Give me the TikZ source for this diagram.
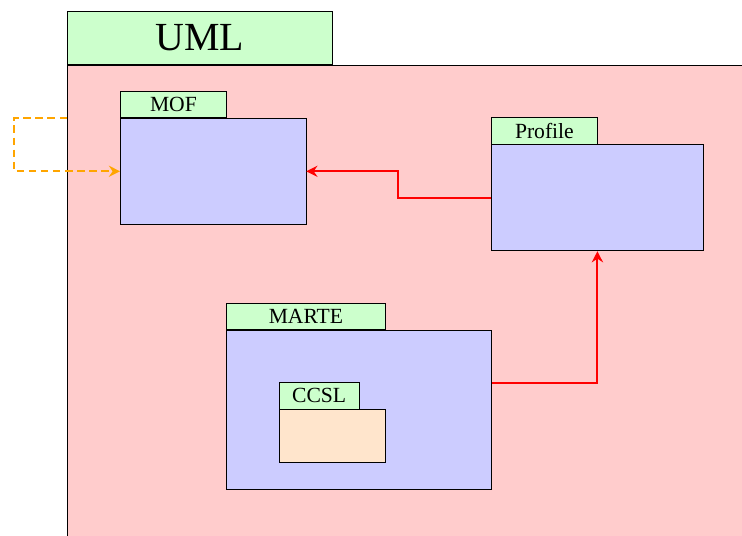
\documentclass[tikz,border=0pt]{standalone}
\usepackage{fontspec}
\setmainfont{Liberation Serif}
\usetikzlibrary{positioning, arrows.meta}
\definecolor{linkorange}{HTML}{FFA500}

\begin{document}
\begin{tikzpicture}[x=0.5cm, y=-0.5cm,
        pkgbody/.style={rectangle, draw=black, fill=blue!20, inner sep=0pt, anchor=north west},
        pkgtab/.style={rectangle, draw=black, fill=green!20, inner sep=0pt, minimum height=0.5cm, font=\fontsize{11.6}{13}\selectfont},
        redlink/.style={draw=red, line width=1.1pt, -{Stealth[length=6pt, width=6pt, inset=2pt]}},
        importlink/.style={draw=linkorange, line width=1.1pt, dash pattern=on 4pt off 2.5pt, -{Stealth[length=6pt, width=6pt, inset=2pt]}}]
        \clip (-0.53, -0.45) rectangle (27.47, 19.77);

        % outer package
        \node[pkgbody, fill=red!20, minimum width=15cm, minimum height=10cm] (uml) at (2, 2) {};
        \node[pkgtab, above right=0pt of uml.north west, minimum width=5cm, minimum height=1cm, font=\fontsize{21.4}{24}\selectfont] (umltab) {UML};

        % packages inside
        \node[pkgbody, minimum width=3.5cm, minimum height=2cm] (mof) at (4, 4) {};
        \node[pkgtab, above right=0pt of mof.north west, minimum width=2cm] (moftab) {MOF};

        \node[pkgbody, minimum width=4cm, minimum height=2cm] (profile) at (18, 5) {};
        \node[pkgtab, above right=0pt of profile.north west, minimum width=2cm] (profiletab) {Profile};

        \node[pkgbody, minimum width=5cm, minimum height=3cm] (marte) at (8, 12) {};
        \node[pkgtab, above right=0pt of marte.north west, minimum width=3cm] (martetab) {MARTE};

        \node[pkgbody, fill=orange!20, minimum width=2cm, minimum height=1cm] (ccsl) at (10, 15) {};
        \node[pkgtab, above right=0pt of ccsl.north west, minimum width=1.5cm] (ccsltab) {CCSL};

        % links
        \draw[redlink] (profile.west) -- ++(-3.5, 0) |- (mof.east);
        \draw[redlink] ([yshift=5mm]marte.east) -| (profile.south);
        \draw[importlink] ([yshift=-1cm]uml.north west) -- ++(-2, 0) |- (mof.west);
    \end{tikzpicture}
\end{document}
